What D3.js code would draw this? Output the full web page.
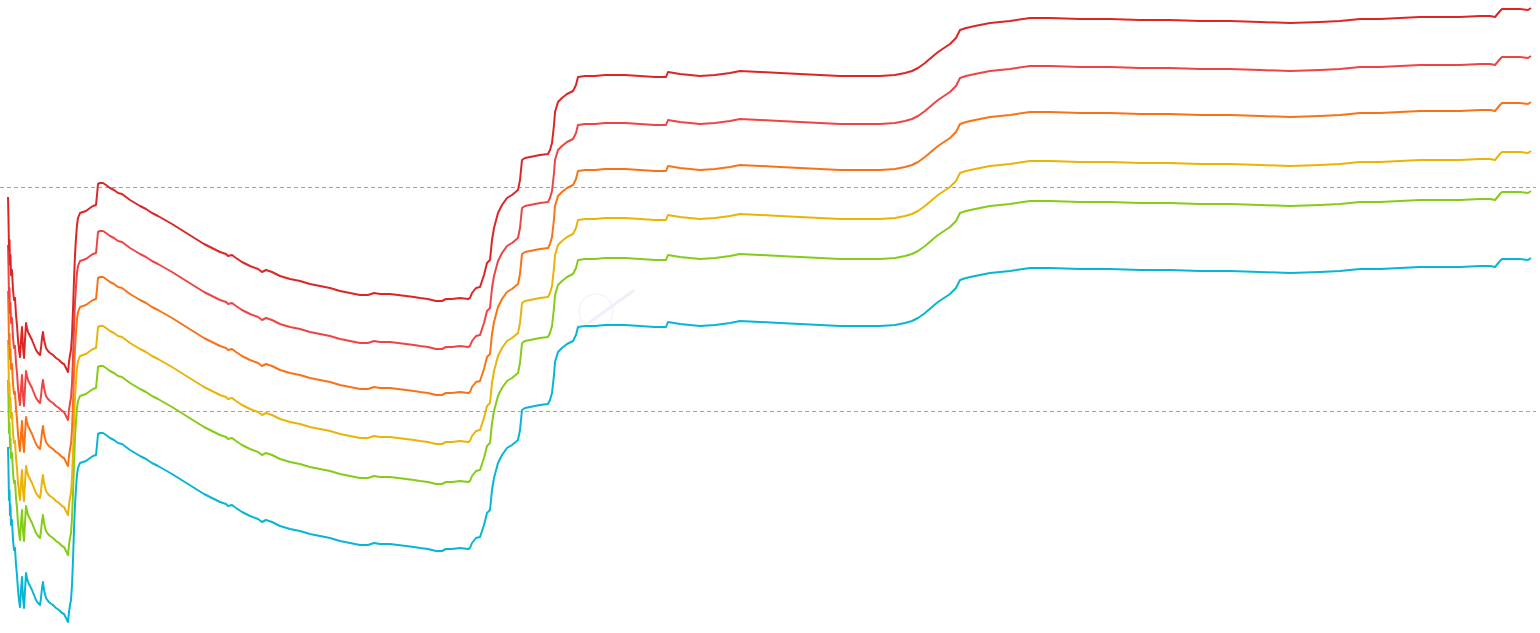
<!DOCTYPE html>
<html>
<head>
<meta charset="utf-8">
<script src="https://cdn.jsdelivr.net/npm/d3@7"></script>
<style>
  html, body { margin: 0; padding: 0; background: #ffffff; }
  svg { display: block; }
</style>
</head>
<body>
<div id="chart"></div>
<script>
// ---- data ----
// trading-day index
const days = [0,0.5,1,1.5,2,2.5,3,4,5,6,7,8,9,10,11,12,13,14,15,16,17,18,19,20,22,24,26,28,30,32,33,34,35,36,38,40,42,45,48,51,54,56,58,60,61,62,63,64,65,66,67,68,69,70,72,75,78,82,85,88,89,90,92,95,98,102,106,110,114,118,122,127,132,138,144,150,157,164,172,180,188,196,204,212,218,220,224,228,234,242,250,254,258,264,272,282,292,302,312,322,332,342,352,360,366,372,382,390,398,406,412,420,428,434,438,444,452,460,462,464,468,472,476,479,482,484,486,490,494,499,504,510,512,514,517,522,532,540,542,544,546,547,550,554,559,565,568,570,577,587,597,607,617,632,647,658,660,672,692,707,722,732,752,772,792,812,832,852,872,887,897,904,910,917,924,930,936,942,948,952,958,967,982,992,1002,1022,1042,1072,1102,1132,1162,1192,1222,1252,1282,1312,1332,1352,1372,1392,1412,1432,1452,1472,1482,1487,1492,1494,1512,1520,1523];
// base path (lowest band)
const base = [186,163,133,143,118,128,108,113,93,83,85,68,58,43,33,26,43,56,35,25,43,60,55,51,47,43,38,33,30,28,35,45,51,43,35,32,30,28,25,23,20,19,15,11,21,28,33,48,73,103,128,145,158,165,170,171,172,175,177,178,188,199,200,200,198,195,193,190,189,186,183,180,177,174,170,167,163,159,154,149,144,139,135,131,129,127,128,125,121,117,114,111,113,111,107,104,102,99,97,95,92,90,88,88,90,89,89,88,87,86,85,84,82,82,84,84,85,84,85,90,95,96,108,120,123,143,155,170,178,185,188,193,203,223,225,226,228,229,233,240,258,271,281,285,289,292,298,306,307,307,308,308,308,307,306,306,311,309,307,308,310,312,311,310,309,308,307,307,307,308,310,312,315,320,326,331,335,339,345,353,355,357,360,361,362,365,365,364,364,363,363,362,362,361,360,361,362,364,364,365,366,366,366,367,367,366,372,374,374,373,375];
// band series names, colours and their level above the base path
const seriesNames = ["Band 6","Band 5","Band 4","Band 3","Band 2","Band 1"];
const seriesColors = ["#dc2626","#ef4444","#f97316","#eab308","#84cc16","#06b6d4"];
const seriesLevels = [250,202,156,107,67,0];
// dashed reference levels
const refLevels = [446,222];

// ---- chart ----
const W = 1540, H = 633;
const svg = d3.select("#chart").append("svg")
  .attr("width", W).attr("height", H)
  .attr("viewBox", `0 0 ${W} ${H}`);

svg.append("rect").attr("width", W).attr("height", H).attr("fill", "#fff");

const x = d3.scaleLinear().domain([0, 1523]).range([8, 1531]);
const y = d3.scaleLinear().domain([0, 633]).range([633, 0]);

// faint watermark
const wm = svg.append("g");
wm.append("circle").attr("cx", 596).attr("cy", 311).attr("r", 17)
  .attr("fill", "none").attr("stroke", "#f5f5f7").attr("stroke-width", 1.5);
wm.append("line").attr("x1", 590).attr("y1", 322).attr("x2", 633).attr("y2", 291)
  .attr("stroke", "#f1edfc").attr("stroke-width", 3).attr("stroke-linecap", "round");

// dashed reference lines
svg.selectAll("line.ref").data(refLevels).enter().append("line")
  .attr("class", "ref")
  .attr("x1", 0).attr("x2", 1536)
  .attr("y1", d => Math.round(y(d)) + 0.5).attr("y2", d => Math.round(y(d)) + 0.5)
  .attr("stroke", "#a3a3a3").attr("stroke-width", 1)
  .attr("stroke-dasharray", "4,3");

const line = d3.line()
  .x(d => x(d[0]))
  .y(d => y(d[1]))
  .curve(d3.curveLinear);

const series = seriesNames.map((name, i) => ({
  name,
  color: seriesColors[i],
  points: days.map((t, j) => [t, base[j] + seriesLevels[i]])
}));

svg.selectAll("path.band").data(series.slice().reverse()).enter().append("path")
  .attr("class", "band")
  .attr("d", d => line(d.points))
  .attr("fill", "none")
  .attr("stroke", d => d.color)
  .attr("stroke-width", 2)
  .attr("stroke-linejoin", "round");
</script>
</body>
</html>
